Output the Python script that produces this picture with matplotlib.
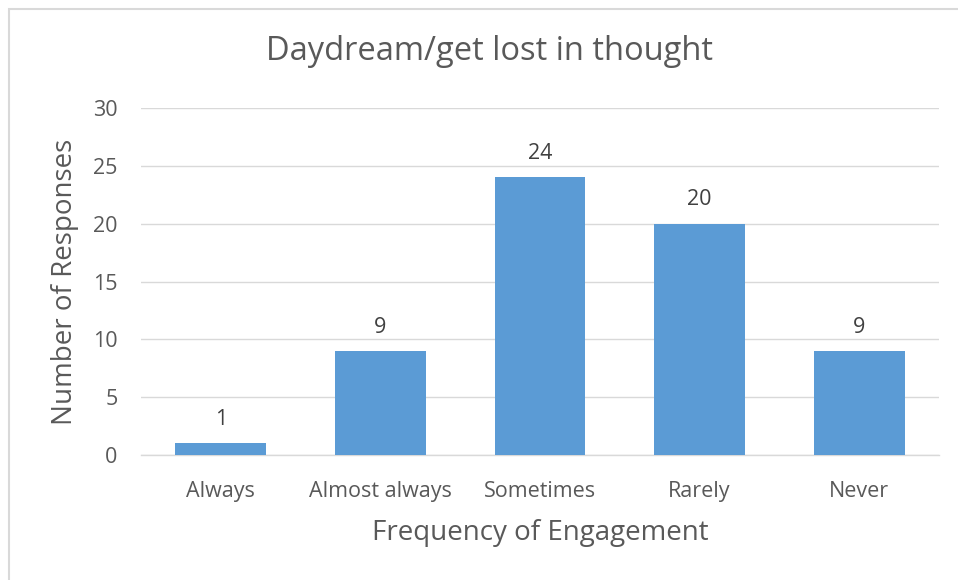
import matplotlib.pyplot as plt
from matplotlib.patches import Rectangle

categories = ['Always', 'Almost always', 'Sometimes', 'Rarely', 'Never']
responses = [1, 9, 24, 20, 9]
yticks = [0, 5, 10, 15, 20, 25, 30]

plt.rcParams['font.family'] = ['Open Sans', 'DejaVu Sans']
text_col = '#595959'
bar_col = '#5B9BD5'

fig = plt.figure(figsize=(9.58, 5.8), dpi=100)
ax = fig.add_axes([141 / 958, 1 - 455 / 580, 798 / 958, 347 / 580])

# light frame around chart area (only top/left visible in the reference)
fig.patches.append(Rectangle((9 / 958, -0.1), 1.2, 1 - 9 / 580 + 0.1,
                             transform=fig.transFigure, fill=False,
                             edgecolor='#D9D9D9', linewidth=1.5))

x = range(len(categories))
bars = ax.bar(x, responses, width=0.57, color=bar_col, zorder=3)
for b, v in zip(bars, responses):
    ax.text(b.get_x() + b.get_width() / 2, v + 2.05, str(v), ha='center',
            va='center', fontsize=15.5, color='#404040')

ax.set_xlim(-0.5, len(categories) - 0.5)
ax.set_ylim(0, 30)
ax.set_yticks(yticks)
ax.set_xticks(list(x))
ax.set_xticklabels(categories)
ax.grid(axis='y', color='#D9D9D9', linewidth=1, zorder=0)
for s in ['top', 'right', 'left']:
    ax.spines[s].set_visible(False)
ax.spines['bottom'].set_color('#D9D9D9')
ax.spines['bottom'].set_linewidth(1)
ax.tick_params(axis='both', length=0, labelsize=15.5, colors=text_col)
ax.tick_params(axis='y', pad=17)
ax.tick_params(axis='x', pad=19)

ax.set_ylabel('Number of Responses', fontsize=20, color=text_col, va='center')
ax.yaxis.set_label_coords((65 - 141) / 798, 0.5)
ax.set_xlabel('Frequency of Engagement', fontsize=20, color=text_col, va='center')
ax.xaxis.set_label_coords(0.5, (455 - 533) / 347)
fig.text(489 / 958, 1 - 52 / 580, 'Daydream/get lost in thought', ha='center',
         va='center', fontsize=23.5, color=text_col)

fig.savefig('out.png', dpi=100)
